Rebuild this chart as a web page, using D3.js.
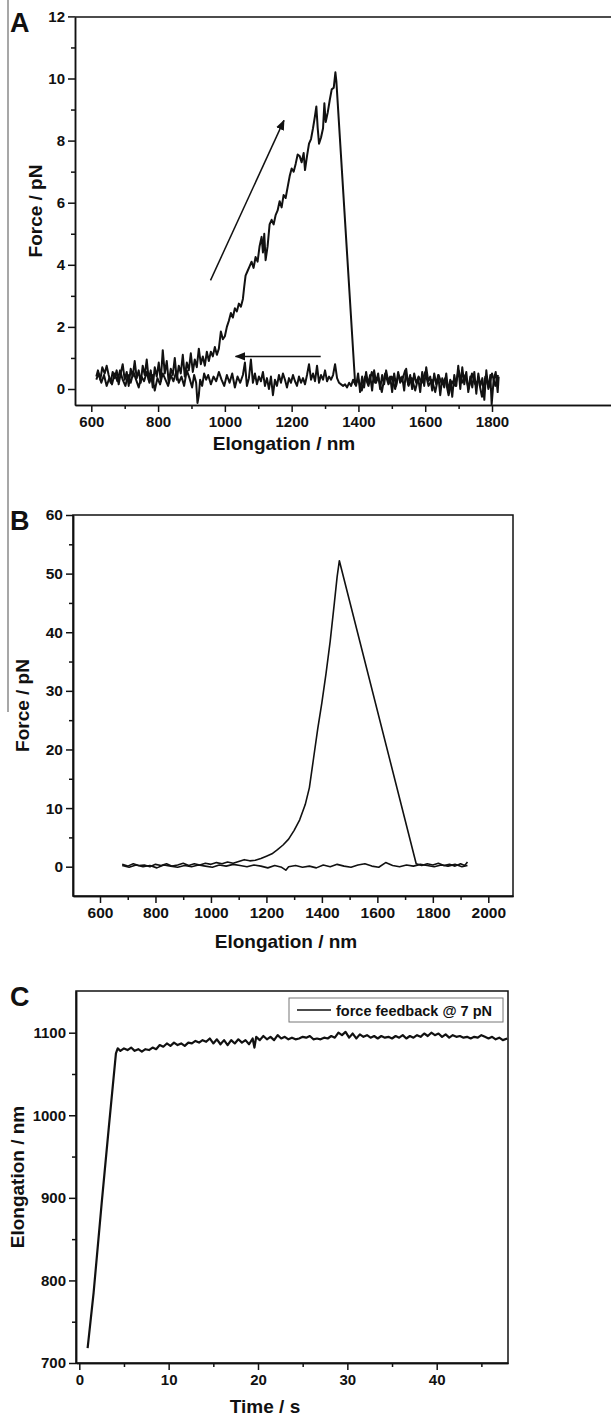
<!DOCTYPE html>
<html>
<head>
<meta charset="utf-8">
<title>Force curves</title>
<script src="https://d3js.org/d3.v7.min.js"></script>
<style>
body { margin: 0; background: #fff; }
svg text { font-family: "Liberation Sans", Arial, sans-serif; font-weight: bold; fill: #111; }
.axis path, .axis line { stroke: #111; stroke-width: 1.5; }
.trace { fill: none; stroke: #111; stroke-linejoin: round; }
</style>
</head>
<body>
<script>
// ---- panel A : force vs elongation (pN / nm) ----
var aExtend = [[615,0.4],[620,0.6],[627,0.3],[633,0.7],[640,0.5],[646,0.75],[652,0.45],[658,0.2],[664,0.55],[670,0.35],[676,0.6],[682,0.15],[688,0.5],[694,0.8],[700,0.3],[706,0.55],[712,0.1],[718,0.65],[724,0.4],[730,0.9],[736,0.35],[742,0.6],[748,0.2],[754,0.75],[760,0.45],[766,0.95],[772,0.3],[778,0.6],[784,0.05],[790,0.7],[796,0.4],[802,0.85],[808,0.25],[814,1.25],[820,0.5],[826,0.9],[832,0.2],[838,0.65],[844,0.45],[850,1.0],[856,0.3],[862,0.75],[868,0.5],[874,1.1],[880,0.4],[886,0.85],[892,0.6],[898,1.15],[904,0.55],[910,0.95],[916,0.7],[922,1.3],[928,0.8],[934,1.05],[940,0.75],[946,1.2],[952,0.9],[958,1.2],[964,1.05],[970,1.35],[976,1.1],[982,1.3],[988,1.85],[994,1.6],[1000,1.7],[1006,2.0],[1012,2.2],[1018,2.45],[1024,2.3],[1030,2.6],[1036,2.5],[1042,2.75],[1048,2.65],[1054,2.9],[1058,3.3],[1062,3.65],[1068,3.8],[1074,3.95],[1080,4.1],[1086,3.9],[1092,4.25],[1098,4.1],[1104,4.6],[1110,4.9],[1114,4.4],[1118,5.0],[1122,4.15],[1128,4.6],[1134,5.3],[1140,5.45],[1146,5.3],[1152,5.6],[1158,5.75],[1164,6.05],[1170,5.85],[1176,6.25],[1182,6.15],[1188,6.5],[1194,6.85],[1200,7.1],[1206,7.0],[1212,7.25],[1218,7.55],[1224,7.5],[1230,7.3],[1236,7.6],[1240,7.05],[1246,7.5],[1252,7.9],[1258,8.05],[1264,8.4],[1270,8.8],[1274,9.1],[1278,8.4],[1282,7.9],[1288,8.1],[1294,8.4],[1298,9.2],[1302,8.6],[1308,8.9],[1314,9.3],[1320,9.65],[1326,9.7],[1331,10.2],[1334,9.9],
  [1390,0.2],[1393,0.1],[1399,0.5],[1405,-0.1],[1411,0.4],[1417,0.05],[1423,0.55],[1429,0.15],[1435,0.45],[1441,-0.05],[1447,0.6],[1453,0.2],[1459,0.5],[1465,0.0],[1471,0.45],[1477,0.15],[1483,0.6],[1489,0.25],[1495,0.4],[1501,-0.1],[1507,0.5],[1513,0.1],[1519,0.55],[1525,0.2],[1531,0.4],[1537,-0.05],[1543,0.65],[1549,0.15],[1555,0.45],[1561,0.0],[1567,0.5],[1573,0.2],[1579,0.35],[1585,-0.1],[1591,0.55],[1597,0.1],[1603,0.7],[1609,0.25],[1615,0.4],[1621,-0.05],[1627,0.5],[1633,0.15],[1639,0.45],[1645,-0.2],[1651,0.35],[1657,0.05],[1663,0.5],[1669,-0.1],[1675,0.3],[1681,-0.25],[1687,0.45],[1693,0.1],[1699,0.75],[1705,0.0],[1711,0.7],[1717,0.15],[1723,0.55],[1729,-0.1],[1735,0.4],[1741,0.05],[1747,0.55],[1753,-0.15],[1759,0.5],[1765,0.1],[1771,0.35],[1777,-0.35],[1783,0.6],[1789,0.0],[1795,0.45],[1799,-0.5],[1805,0.3],[1811,0.55],[1817,-0.1],[1820,0.4]];
var aRetract = [[615,0.3],[622,0.5],[630,0.2],[638,0.45],[646,0.1],[654,0.35],[662,0.15],[670,0.5],[678,0.25],[686,0.6],[694,0.3],[702,0.1],[710,0.45],[718,0.2],[726,0.55],[734,0.3],[742,0.05],[750,0.4],[758,0.25],[766,0.55],[774,0.2],[782,0.45],[790,-0.05],[798,0.35],[806,0.15],[814,0.5],[822,0.3],[830,0.1],[838,0.45],[846,0.25],[854,0.55],[862,0.2],[870,0.4],[878,0.1],[886,0.6],[894,0.35],[902,0.05],[908,0.45],[914,0.2],[918,-0.45],[922,-0.2],[926,0.3],[932,0.1],[938,0.5],[944,0.3],[950,0.45],[958,0.15],[966,0.4],[974,0.25],[982,0.55],[990,0.3],[998,0.1],[1006,0.45],[1014,0.2],[1022,0.5],[1030,0.05],[1038,0.4],[1046,0.2],[1054,0.45],[1060,0.85],[1066,0.1],[1072,0.35],[1078,0.95],[1084,0.2],[1090,0.5],[1096,0.15],[1102,0.4],[1108,0.25],[1114,0.55],[1120,0.1],[1126,0.35],[1132,0.0],[1138,0.4],[1144,-0.2],[1150,0.3],[1156,0.1],[1162,0.45],[1168,0.2],[1174,0.5],[1180,0.3],[1186,0.05],[1192,0.35],[1198,0.2],[1204,0.45],[1210,0.25],[1216,0.1],[1222,0.4],[1228,0.2],[1234,0.35],[1240,0.15],[1246,0.45],[1252,0.8],[1258,0.3],[1264,0.5],[1270,0.25],[1276,0.75],[1282,0.2],[1288,0.45],[1294,0.3],[1300,0.6],[1306,0.25],[1312,0.4],[1318,0.3],[1324,0.45],[1330,0.8],[1336,0.35],[1342,0.2],[1348,0.15],[1354,0.1],[1360,0.15],[1366,0.05],[1372,0.2],[1378,0.1],[1384,0.3],[1390,0.15],[1400,0.3],[1410,-0.05],[1420,0.4],[1430,0.1],[1440,0.55],[1450,0.2],[1460,0.35],[1470,-0.1],[1480,0.5],[1490,0.15],[1500,0.4],[1510,0.0],[1520,0.45],[1530,0.25],[1540,0.6],[1550,0.1],[1560,0.35],[1570,-0.05],[1580,0.4],[1590,0.2],[1600,0.55],[1610,0.1],[1620,0.3],[1630,-0.1],[1640,0.45],[1650,0.15],[1660,0.35],[1670,-0.2],[1680,0.25],[1690,0.1],[1700,0.6],[1710,0.2],[1720,0.45],[1730,0.0],[1740,0.5],[1750,0.15],[1760,0.3],[1770,-0.25],[1780,0.4],[1790,0.05],[1800,0.5],[1810,0.1],[1818,0.45]];
var aArrowUp = [[957,3.5],[1177,8.65]];
var aArrowBack = [[1287,1.05],[1032,1.05]];
var aYTicks = [0,2,4,6,8,10,12], aYMinor = [1,3,5,7,9,11];
var aXTicks = [600,800,1000,1200,1400,1600,1800], aXMinor = [700,900,1100,1300,1500,1700];

// ---- panel B ----
var bExtend = [[680,0.4],[700,0.1],[720,0.5],[740,0.2],[760,0.3],[780,0.0],[800,0.4],[820,0.2],[840,0.5],[860,0.1],[880,0.3],[900,0.6],[920,0.2],[940,0.5],[960,0.3],[980,0.6],[1000,0.4],[1020,0.7],[1040,0.5],[1060,0.8],[1080,0.6],[1100,0.9],[1120,1.2],[1140,1.0],[1160,1.1],[1180,1.4],[1200,1.8],[1220,2.2],[1240,2.9],[1260,3.7],[1280,4.7],[1300,6.2],[1320,8.0],[1340,10.6],[1355,13.5],[1370,18.5],[1385,23.5],[1400,28.0],[1415,33.0],[1430,38.5],[1445,45.0],[1455,49.5],[1463,52.2],[1740,0.5],[1760,0.2],[1780,0.5],[1800,0.3],[1820,0.6],[1840,0.2],[1860,0.4],[1880,0.1],[1900,0.5],[1915,0.2],[1925,0.8]];
var bRetract = [[680,0.2],[705,-0.1],[730,0.3],[755,0.0],[780,0.2],[805,-0.2],[830,0.3],[855,0.1],[880,-0.1],[905,0.2],[930,0.0],[955,0.3],[980,0.1],[1005,-0.1],[1030,0.3],[1055,0.1],[1080,0.4],[1105,0.2],[1130,0.0],[1155,0.3],[1180,0.1],[1205,-0.2],[1230,0.2],[1255,-0.1],[1270,-0.6],[1280,0.0],[1305,0.2],[1330,-0.1],[1355,0.1],[1380,-0.2],[1405,0.3],[1430,0.0],[1455,0.4],[1480,0.1],[1505,-0.1],[1530,0.3],[1555,0.5],[1580,0.1],[1605,-0.1],[1630,0.7],[1655,0.2],[1680,0.0],[1705,0.3],[1730,0.1],[1755,0.4],[1780,0.2],[1805,0.0],[1830,0.3],[1855,0.1],[1880,0.4],[1905,0.0],[1925,0.2]];
var bYTicks = [0,10,20,30,40,50,60], bYMinor = [-5,5,15,25,35,45,55];
var bXTicks = [600,800,1000,1200,1400,1600,1800,2000], bXMinor = [700,900,1100,1300,1500,1700,1900];

// ---- panel C : elongation vs time ----
var cFeedback = [[0.93,718],[1.6,785],[2.5,893],[3.3,985],[4.1,1075],[4.3,1081],[4.6,1078],[5.0,1081],[5.4,1079],[5.8,1082],[6.2,1078],[6.6,1080],[7.0,1077],[7.4,1080],[7.8,1079],[8.2,1082],[8.6,1080],[9.0,1085],[9.4,1083],[9.8,1087],[10.2,1084],[10.6,1088],[11.0,1085],[11.4,1087],[11.8,1084],[12.2,1088],[12.6,1087],[13.0,1090],[13.4,1088],[13.8,1091],[14.2,1089],[14.6,1093],[15.0,1087],[15.4,1092],[15.8,1086],[16.2,1091],[16.6,1085],[17.0,1091],[17.4,1087],[17.8,1092],[18.2,1088],[18.6,1091],[19.0,1086],[19.4,1093],[19.6,1082],[19.8,1095],[20.2,1091],[20.6,1096],[21.0,1092],[21.4,1095],[21.8,1091],[22.2,1097],[22.6,1093],[23.0,1095],[23.4,1092],[23.8,1094],[24.2,1092],[24.6,1093],[25.0,1095],[25.4,1094],[25.8,1096],[26.2,1092],[26.6,1093],[27.0,1092],[27.4,1094],[27.8,1093],[28.2,1096],[28.6,1094],[29.0,1100],[29.4,1097],[29.8,1101],[30.2,1094],[30.6,1099],[31.0,1093],[31.4,1098],[31.8,1095],[32.2,1097],[32.6,1094],[33.0,1096],[33.4,1093],[33.8,1096],[34.2,1094],[34.6,1095],[35.0,1093],[35.4,1096],[35.8,1094],[36.2,1097],[36.6,1093],[37.0,1096],[37.4,1094],[37.8,1097],[38.2,1095],[38.6,1099],[39.0,1096],[39.4,1100],[39.8,1097],[40.2,1099],[40.6,1095],[41.0,1098],[41.4,1094],[41.8,1097],[42.2,1095],[42.6,1096],[43.0,1094],[43.4,1095],[43.8,1093],[44.2,1095],[44.6,1094],[45.0,1097],[45.4,1095],[45.8,1093],[46.2,1095],[46.6,1092],[47.0,1094],[47.4,1091],[47.9,1093]];
var cYTicks = [700,800,900,1000,1100], cYMinor = [750,850,950,1050];
var cXTicks = [0,10,20,30,40], cXMinor = [5,15,25,35,45];
var cLegend = "force feedback @ 7 pN";

var svg = d3.select("body").append("svg").attr("width", 611).attr("height", 1419);

svg.append("defs").append("marker")
  .attr("id", "head").attr("viewBox", "0 0 10 10").attr("refX", 9).attr("refY", 5)
  .attr("markerWidth", 7).attr("markerHeight", 7).attr("orient", "auto")
  .append("path").attr("d", "M0,1 L10,5 L0,9 Z").attr("fill", "#111");

// page edge line left of A and B
svg.append("line").attr("x1", 8).attr("x2", 8).attr("y1", 0).attr("y2", 712)
  .attr("stroke", "#8a8a8a").attr("stroke-width", 1.5);

var fmt = d3.format("d");

function panel(o) {
  var x = d3.scaleLinear().domain(o.xPin).range(o.xPx);
  var y = d3.scaleLinear().domain(o.yPin).range(o.yPx);
  x.domain([x.invert(o.left), x.invert(o.right)]).range([o.left, o.right]);
  y.domain([y.invert(o.bottom), y.invert(o.top)]).range([o.bottom, o.top]);
  var g = svg.append("g");

  function ax(axis, tr, fs) {
    var a = g.append("g").attr("class", "axis").attr("transform", tr).call(axis);
    a.attr("font-size", fs).attr("font-family", null);
    return a;
  }
  ax(d3.axisBottom(x).tickValues(o.xMinor).tickSize(4).tickSizeOuter(0).tickFormat(""), "translate(0," + o.bottom + ")", o.fs);
  ax(d3.axisLeft(y).tickValues(o.yMinor.filter(function(v){ return v > y.domain()[0]; })).tickSize(4).tickSizeOuter(0).tickFormat(""), "translate(" + o.left + ",0)", o.fs);
  ax(d3.axisBottom(x).tickValues(o.xTicks).tickSize(7).tickSizeOuter(0).tickPadding(4).tickFormat(fmt), "translate(0," + o.bottom + ")", o.fs);
  ax(d3.axisLeft(y).tickValues(o.yTicks).tickSize(7).tickSizeOuter(0).tickPadding(3).tickFormat(fmt), "translate(" + o.left + ",0)", o.fs);

  if (o.box) {
    g.append("rect").attr("x", o.left).attr("y", o.top).attr("width", o.right - o.left).attr("height", o.bottom - o.top)
      .attr("fill", "none").attr("stroke", "#111").attr("stroke-width", 1.5);
  } else {
    g.append("line").attr("x1", o.left).attr("x2", o.right).attr("y1", o.top).attr("y2", o.top)
      .attr("stroke", "#111").attr("stroke-width", 1.5);
  }

  var line = d3.line().x(function(d){ return x(d[0]); }).y(function(d){ return y(d[1]); });
  o.series.forEach(function(s) {
    g.append("path").datum(s).attr("class", "trace").attr("d", line).attr("stroke-width", o.lw);
  });

  g.append("text").attr("x", 10).attr("y", o.top + 15).attr("font-size", 27).text(o.label);
  g.append("text").attr("x", o.xTitleX).attr("y", o.xTitleY)
    .attr("text-anchor", "middle").attr("font-size", o.titleFs).text(o.xTitle);
  g.append("text").attr("transform", "translate(" + o.yTitleX + "," + ((o.top + o.bottom) / 2) + ") rotate(-90)")
    .attr("text-anchor", "middle").attr("font-size", o.titleFs).text(o.yTitle);
  return {g: g, x: x, y: y, line: line};
}

var pA = panel({
  left: 75, right: 626, top: 17, bottom: 405,
  xPin: [600, 1800], xPx: [91.3, 492], yPin: [0, 10], yPx: [389, 78.5],
  xTicks: aXTicks, xMinor: aXMinor, yTicks: aYTicks, yMinor: aYMinor,
  series: [aRetract, aExtend], lw: 2, fs: 15, titleFs: 19, box: false,
  label: "A", xTitle: "Elongation / nm", xTitleX: 284, xTitleY: 450, yTitle: "Force / pN", yTitleX: 42
});
[aArrowUp, aArrowBack].forEach(function(a) {
  pA.g.append("path").datum(a).attr("d", pA.line).attr("stroke", "#111").attr("stroke-width", 1.5)
    .attr("fill", "none").attr("marker-end", "url(#head)");
});

panel({
  left: 73, right: 513, top: 515, bottom: 896,
  xPin: [600, 2000], xPx: [100, 488.3], yPin: [0, 60], yPx: [866.7, 515],
  xTicks: bXTicks, xMinor: bXMinor, yTicks: bYTicks, yMinor: bYMinor,
  series: [bRetract, bExtend], lw: 1.6, fs: 15.5, titleFs: 19, box: true,
  label: "B", xTitle: "Elongation / nm", xTitleX: 286, xTitleY: 948, yTitle: "Force / pN", yTitleX: 29
});

var pC = panel({
  left: 76, right: 508, top: 991, bottom: 1363,
  xPin: [0, 40], xPx: [79.3, 436.7], yPin: [700, 1100], yPx: [1363, 1032.7],
  xTicks: cXTicks, xMinor: cXMinor, yTicks: cYTicks, yMinor: cYMinor,
  series: [cFeedback], lw: 2.2, fs: 15, titleFs: 19, box: true,
  label: "C", xTitle: "Time / s", xTitleX: 265, xTitleY: 1413, yTitle: "Elongation / nm", yTitleX: 24
});

// legend
var lg = pC.g.append("g");
lg.append("rect").attr("x", 289).attr("y", 998).attr("width", 214).attr("height", 24)
  .attr("fill", "#fff").attr("stroke", "#777").attr("stroke-width", 1);
lg.append("line").attr("x1", 297).attr("x2", 331).attr("y1", 1010).attr("y2", 1010)
  .attr("stroke", "#111").attr("stroke-width", 1.6);
lg.append("text").attr("x", 336).attr("y", 1015.5).attr("font-size", 14.5).text(cLegend);
</script>
</body>
</html>
